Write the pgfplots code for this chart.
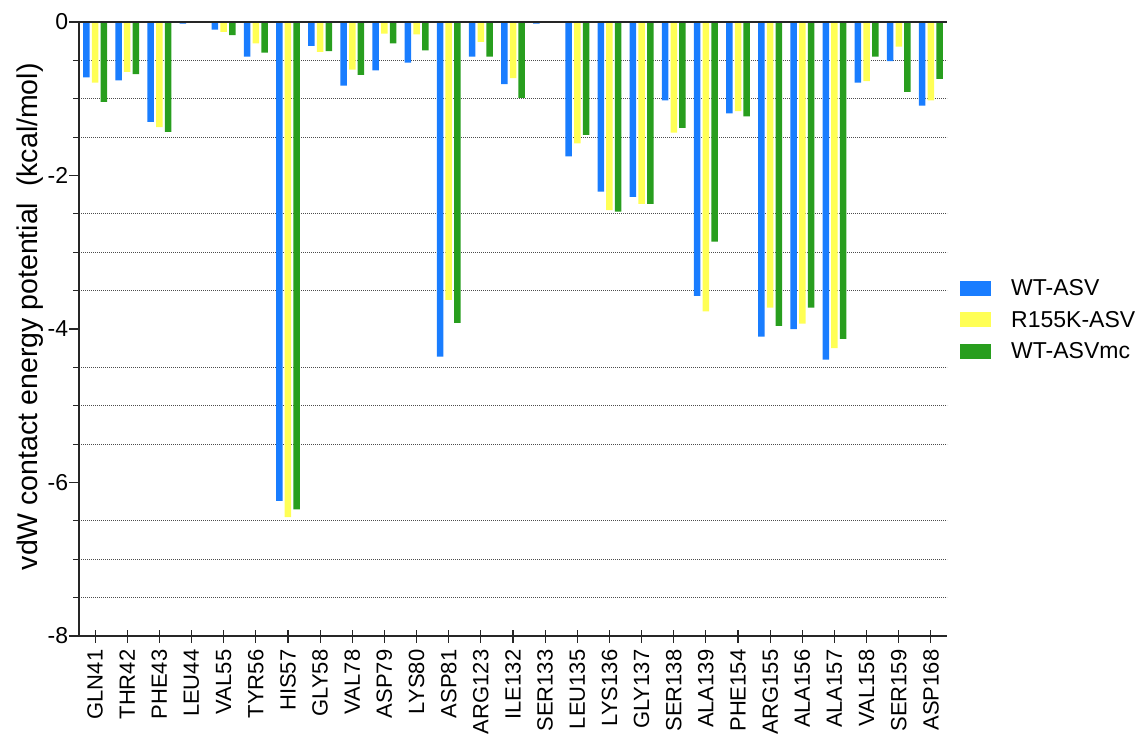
\documentclass[border=0pt]{standalone}
\usepackage{fontspec}
\setmainfont{Liberation Sans}
\usepackage{pgfplots}
\pgfplotsset{compat=1.18}
\definecolor{cB}{RGB}{25,125,255}
\definecolor{cY}{RGB}{255,255,85}
\definecolor{cG}{RGB}{40,158,30}
\begin{document}
\begin{tikzpicture}[x=1pt,y=1pt]
\path[use as bounding box] (-79,-102) rectangle (1068,636);
\begin{axis}[
  at={(0,0)}, anchor=south west,
  width=868pt, height=614pt, scale only axis,
  xmin=-0.5, xmax=26.5, ymin=-8, ymax=0,
  clip=false,
  axis x line*=bottom, axis y line*=left,
  axis line style={line width=1.3pt, black!85, -},
  xtick={0,...,26},
  xticklabels={GLN41,THR42,PHE43,LEU44,VAL55,TYR56,HIS57,GLY58,VAL78,ASP79,LYS80,ASP81,ARG123,ILE132,SER133,LEU135,LYS136,GLY137,SER138,ALA139,PHE154,ARG155,ALA156,ALA157,VAL158,SER159,ASP168},
  xtick align=center,
  xtick style={line width=1.1pt, black!85, /pgfplots/major tick length=13pt},
  xticklabel shift=8pt,
  x tick label style={rotate=90, anchor=east, font=\fontsize{22}{24}\selectfont},
  ytick={-8,-6,-4,-2,0},
  yticklabels={-8,-6,-4,-2,0},
  ytick align=outside,
  ytick style={line width=1.1pt, black!85, /pgfplots/major tick length=10pt, /pgfplots/minor tick length=6pt},
  minor ytick={-7.5,-7,-6.5,-5.5,-5,-4.5,-3.5,-3,-2.5,-1.5,-1,-0.5},
  yminorgrids=true,
  minor grid style={black!70, line width=0.8pt, dash pattern=on 0.8pt off 1.2pt},
  y tick label style={font=\fontsize{23}{25}\selectfont, xshift=-3pt},
  ylabel={vdW contact energy potential\ \ (kcal/mol)},
  ylabel style={at={(axis description cs:0,0.52)}, yshift=49pt, anchor=center, font=\fontsize{28.5}{31}\selectfont},
  legend style={at={(axis description cs:1,0.515)}, anchor=west, xshift=10pt, draw=none, fill=none,
    font=\fontsize{23}{26}\selectfont, row sep=14pt, column sep=19pt, nodes={inner xsep=1pt, inner ysep=0pt}},
  legend cell align=left,
]
\addplot[ybar, bar width=6.5pt, bar shift=-8.7pt, fill=cB, draw=none,
  legend image code/.code={\fill[cB] (0pt,-7.5pt) rectangle (31pt,7.5pt);}]
  coordinates {(0,-0.72)(1,-0.76)(2,-1.30)(3,-0.02)(4,-0.10)(5,-0.45)(6,-6.24)(7,-0.31)(8,-0.83)(9,-0.63)(10,-0.53)(11,-4.36)(12,-0.45)(13,-0.81)(14,-0.02)(15,-1.75)(16,-2.21)(17,-2.28)(18,-1.02)(19,-3.57)(20,-1.19)(21,-4.10)(22,-4.00)(23,-4.40)(24,-0.79)(25,-0.51)(26,-1.09)};
\addlegendentry{WT-ASV}
\addplot[ybar, bar width=6.5pt, bar shift=0pt, fill=cY, draw=none,
  legend image code/.code={\fill[cY] (0pt,-7.5pt) rectangle (31pt,7.5pt);}]
  coordinates {(0,-0.79)(1,-0.65)(2,-1.37)(3,-0.01)(4,-0.13)(5,-0.28)(6,-6.45)(7,-0.39)(8,-0.62)(9,-0.15)(10,-0.16)(11,-3.62)(12,-0.26)(13,-0.73)(14,-0.01)(15,-1.58)(16,-2.45)(17,-2.37)(18,-1.44)(19,-3.77)(20,-1.16)(21,-3.72)(22,-3.93)(23,-4.25)(24,-0.77)(25,-0.32)(26,-1.02)};
\addlegendentry{R155K-ASV}
\addplot[ybar, bar width=6.5pt, bar shift=8.7pt, fill=cG, draw=none,
  legend image code/.code={\fill[cG] (0pt,-7.5pt) rectangle (31pt,7.5pt);}]
  coordinates {(0,-1.04)(1,-0.68)(2,-1.43)(3,-0.01)(4,-0.17)(5,-0.40)(6,-6.35)(7,-0.38)(8,-0.69)(9,-0.28)(10,-0.37)(11,-3.92)(12,-0.45)(13,-0.99)(14,-0.01)(15,-1.47)(16,-2.47)(17,-2.37)(18,-1.38)(19,-2.86)(20,-1.23)(21,-3.96)(22,-3.72)(23,-4.13)(24,-0.45)(25,-0.91)(26,-0.74)};
\addlegendentry{WT-ASVmc}
\draw[line width=1.3pt, black!85] (axis cs:-0.5,0) -- (axis cs:26.5,0);
\end{axis}
\end{tikzpicture}
\end{document}
